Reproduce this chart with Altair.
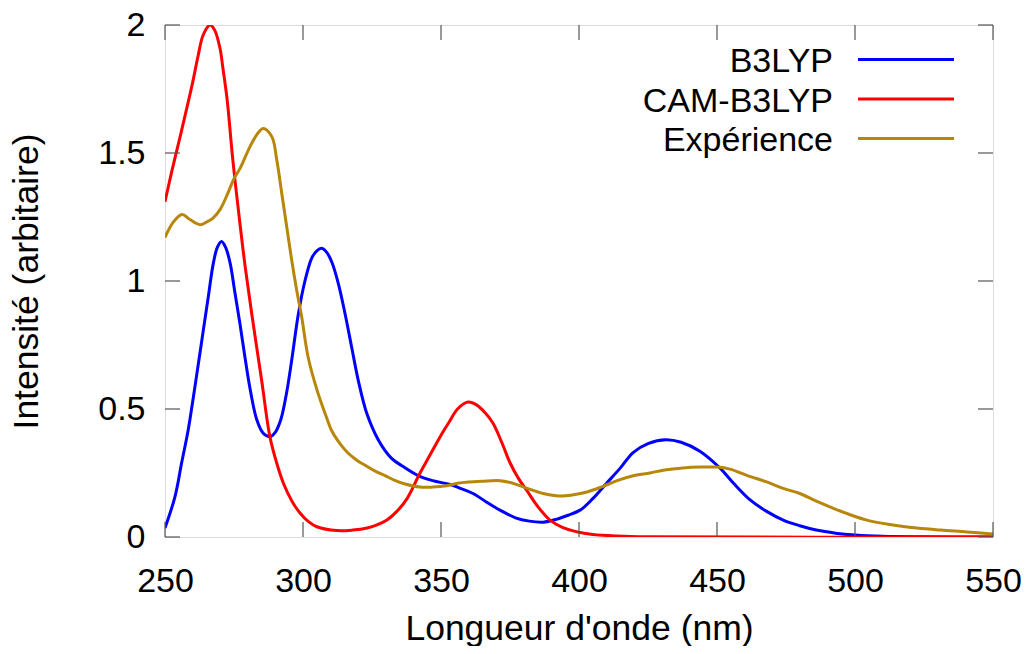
import altair as alt
import pandas as pd

# ---- data ----
b3_x = [250, 253.6, 256, 258.4, 260.3, 262.1, 263.9, 265.7, 267.5, 269, 270.5, 272, 273.6, 275.4,
        277.2, 279, 280.8, 283.2, 285.6, 288, 290, 292, 294, 295.9, 298.3, 300.7, 303.2, 305,
        306.8, 308.6, 310.4, 312.8, 315.2, 317.6, 320, 323.1, 327.3, 332.1, 336.3, 341.7, 347,
        353.3, 357, 361.6, 366, 371.4, 377, 382, 387, 392, 396, 400.4, 405, 410, 415, 419.6, 425,
        431.5, 437, 443.8, 451, 456, 462, 468, 474, 480, 486, 493, 500, 510, 525, 550]
b3_y = [0.035, 0.157, 0.288, 0.418, 0.548, 0.678, 0.809, 0.939, 1.069, 1.132, 1.154, 1.13, 1.07,
        0.95, 0.83, 0.70, 0.58, 0.46, 0.405, 0.392, 0.41, 0.46, 0.56, 0.69, 0.87, 1.0, 1.09, 1.118,
        1.128, 1.112, 1.075, 0.99, 0.874, 0.743, 0.613, 0.483, 0.379, 0.307, 0.275, 0.24, 0.22,
        0.205, 0.19, 0.17, 0.14, 0.105, 0.075, 0.062, 0.058, 0.07, 0.085, 0.105, 0.15, 0.21, 0.27,
        0.33, 0.365, 0.38, 0.37, 0.335, 0.27, 0.21, 0.145, 0.10, 0.066, 0.044, 0.027, 0.015, 0.008,
        0.003, 0.001, 0.0]

cam_x = [250, 252.5, 255.4, 258, 260.1, 262, 263.8, 266.3, 268, 269.9, 271, 272.5, 274.6, 277.2,
         279, 281.4, 285, 288, 290.5, 292.9, 296, 298.9, 302, 305, 312.3, 318, 323.2, 327, 330.4,
         334, 337.7, 342.4, 346, 349.6, 353, 356, 359.8, 363, 366, 368.8, 372, 375, 378, 381.2,
         385, 389.5, 394, 399.3, 405, 413.8, 425, 550]
cam_y = [1.31, 1.43, 1.56, 1.68, 1.78, 1.88, 1.96, 2.0, 1.98, 1.91, 1.83, 1.71, 1.47, 1.22,
         1.06, 0.874, 0.613, 0.392, 0.288, 0.21, 0.14, 0.094, 0.06, 0.04, 0.025, 0.027, 0.035, 0.048,
         0.066, 0.10, 0.15, 0.25, 0.32, 0.39, 0.45, 0.50, 0.527, 0.515, 0.485, 0.445, 0.37, 0.29,
         0.23, 0.18, 0.12, 0.066, 0.038, 0.02, 0.01, 0.004, 0.001, 0.0]

exp_x = [250, 253, 256.2, 259, 262.7, 265, 267.4, 270, 272.5, 275, 277.2, 280.8, 283.5, 285.6,
         288.7, 290.5, 292.3, 294.1, 295.9, 297.7, 299.5, 301.9, 305.2, 308.6, 310.4, 313.4, 316.4,
         319.5, 322.5, 326, 329.7, 333, 337, 342.4, 347, 352, 356, 360, 365, 371.4, 376, 381.2, 387,
         393, 398, 402.9, 408, 413.8, 420, 425.7, 431, 437.7, 444, 450, 454.7, 461, 468, 474,
         480, 486, 492, 498, 504.3, 512, 522.5, 531, 540.6, 550]
exp_y = [1.17, 1.23, 1.26, 1.24, 1.22, 1.23, 1.246, 1.28, 1.336, 1.40, 1.44, 1.525, 1.575, 1.596,
         1.564, 1.473, 1.343, 1.212, 1.082, 0.965, 0.861, 0.70, 0.57, 0.465, 0.415, 0.365, 0.327,
         0.30, 0.28, 0.258, 0.24, 0.222, 0.207, 0.195, 0.195, 0.20, 0.21, 0.215, 0.218, 0.22, 0.21,
         0.19, 0.17, 0.16, 0.165, 0.176, 0.195, 0.22, 0.24, 0.25, 0.262, 0.27, 0.273, 0.273, 0.265,
         0.24, 0.215, 0.19, 0.17, 0.14, 0.113, 0.088, 0.066, 0.05, 0.035, 0.027, 0.02, 0.012]

series_names = ["B3LYP", "CAM-B3LYP", "Expérience"]
series_colors = ["#0000ff", "#ff0000", "#b8860b"]
x_ticks = [250, 300, 350, 400, 450, 500, 550]
y_ticks = [0, 0.5, 1, 1.5, 2]

FONT = "Liberation Sans"
W, H = 828, 512
TICK = 15

rows = []
for name, xs, ys in zip(series_names, [b3_x, cam_x, exp_x], [b3_y, cam_y, exp_y]):
    for a, b in zip(xs, ys):
        rows.append({"series": name, "nm": a, "val": b})
df = pd.DataFrame(rows)

xscale = alt.Scale(domain=[250, 550], nice=False, zero=False)
yscale = alt.Scale(domain=[0, 2], nice=False, zero=False)

xaxis = alt.Axis(values=x_ticks, ticks=False, tickSize=0, domain=False, grid=False,
                 labelFontSize=34, labelFont=FONT, labelColor="black", labelBaseline="alphabetic",
                 labelPadding=54, labelFlush=False, labelOverlap=False, format="d",
                 title="Longueur d'onde (nm)", titleFontSize=35.5, titleFont=FONT,
                 titleFontWeight="normal", titleColor="black", titleY=102,
                 titleBaseline="alphabetic")
yaxis = alt.Axis(values=y_ticks, ticks=False, tickSize=0, domain=False, grid=False,
                 labelFontSize=34, labelFont=FONT, labelColor="black", labelBaseline="middle",
                 labelPadding=20, labelFlush=False, labelOverlap=False, format="~g",
                 title="Intensité (arbitaire)", titleFontSize=35.5, titleFont=FONT,
                 titleFontWeight="normal", titleColor="black", titleAngle=270,
                 titleX=-128, titleY=H / 2, titleAlign="center", titleBaseline="alphabetic")

layers = []
for name, color in zip(series_names, series_colors):
    layers.append(
        alt.Chart(df[df["series"] == name]).mark_line(
            strokeWidth=3, interpolate="catmull-rom", clip=True, color=color
        ).encode(
            x=alt.X("nm:Q", scale=xscale, axis=xaxis),
            y=alt.Y("val:Q", scale=yscale, axis=yaxis),
        )
    )

xt = pd.DataFrame({"nm": x_ticks})
yt = pd.DataFrame({"val": y_ticks})
tick_color = "#555555"
layers.append(alt.Chart(xt).mark_rule(color=tick_color, strokeWidth=1.2).encode(
    x=alt.X("nm:Q", scale=xscale), y=alt.value(H), y2=alt.value(H - TICK)))
layers.append(alt.Chart(xt).mark_rule(color=tick_color, strokeWidth=1.2).encode(
    x=alt.X("nm:Q", scale=xscale), y=alt.value(0), y2=alt.value(TICK)))
layers.append(alt.Chart(yt).mark_rule(color=tick_color, strokeWidth=1.2).encode(
    y=alt.Y("val:Q", scale=yscale), x=alt.value(0), x2=alt.value(TICK)))
layers.append(alt.Chart(yt).mark_rule(color=tick_color, strokeWidth=1.2).encode(
    y=alt.Y("val:Q", scale=yscale), x=alt.value(W), x2=alt.value(W - TICK)))

# legend (top right, inside the frame)
for i, (name, color) in enumerate(zip(series_names, series_colors)):
    ld = pd.DataFrame({"series": [name]})
    ly = 34.5 + 39.5 * i
    layers.append(alt.Chart(ld).mark_text(
        align="right", baseline="alphabetic", fontSize=34, font=FONT, color="black"
    ).encode(text="series:N", x=alt.value(668), y=alt.value(ly + 12.5)))
    layers.append(alt.Chart(ld).mark_rule(color=color, strokeWidth=3).encode(
        x=alt.value(693), x2=alt.value(789), y=alt.value(ly)))

chart = alt.layer(*layers).properties(
    width=W, height=H,
    autosize=alt.AutoSizeParams(type="none"),
    padding={"left": 157, "top": 17, "right": 28, "bottom": 109},
).configure_view(stroke="black", strokeWidth=1.5).configure(background="white")

chart.save("out.html", embed_options={"renderer": "svg", "actions": False})
